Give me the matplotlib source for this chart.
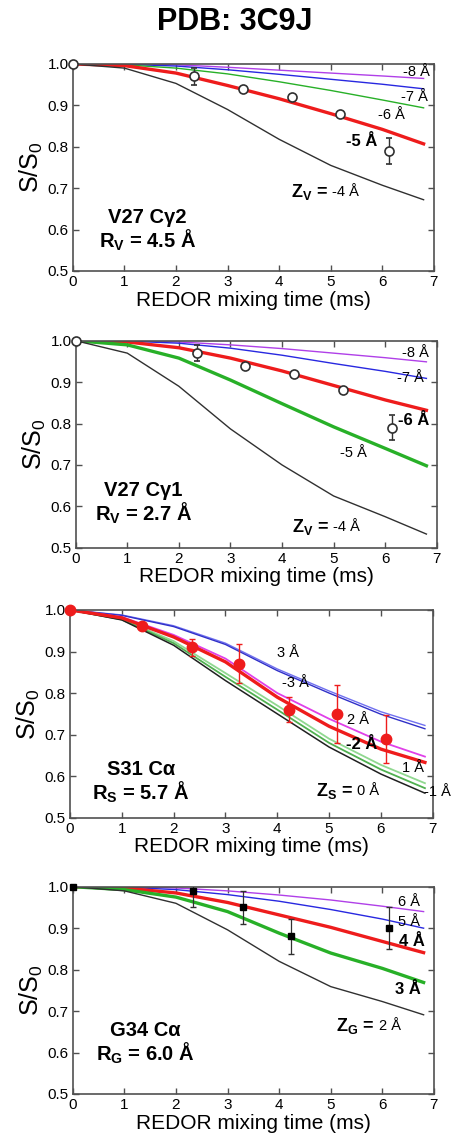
import numpy as np
import matplotlib
matplotlib.use("Agg")
import matplotlib.pyplot as plt

plt.rcParams['font.family'] = ['Liberation Sans', 'DejaVu Sans']
plt.rcParams['mathtext.fontset'] = 'custom'
plt.rcParams['mathtext.rm'] = 'Liberation Sans'
plt.rcParams['mathtext.bf'] = 'Liberation Sans:bold'
plt.rcParams['mathtext.it'] = 'Liberation Sans:italic'

# simulated REDOR curves, sampled at these mixing times (ms)
t_sim = [0, 1, 2, 3, 4, 5, 6, 6.8]
t_sim3 = [0, 1, 2, 3, 4, 5, 6, 6.85]

# panel 1: V27 Cg2, R = 4.5 A
p1_z4 = [1.0, 0.99, 0.953, 0.89, 0.818, 0.755, 0.707, 0.672]
p1_z5 = [1.0, 0.996, 0.978, 0.948, 0.916, 0.88, 0.842, 0.807]
p1_z6 = [1.0, 0.998, 0.99, 0.976, 0.957, 0.936, 0.913, 0.894]
p1_z7 = [1.0, 0.999, 0.995, 0.986, 0.975, 0.963, 0.951, 0.94]
p1_z8 = [1.0, 1.0, 0.998, 0.992, 0.985, 0.978, 0.971, 0.965]

# panel 2: V27 Cg1, R = 2.7 A
p2_z4 = [1.0, 0.97, 0.89, 0.787, 0.70, 0.625, 0.575, 0.533]
p2_z5 = [1.0, 0.99, 0.958, 0.905, 0.848, 0.792, 0.74, 0.698]
p2_z6 = [1.0, 0.997, 0.983, 0.958, 0.927, 0.892, 0.857, 0.832]
p2_z7 = [1.0, 0.999, 0.994, 0.982, 0.965, 0.945, 0.926, 0.909]
p2_z8 = [1.0, 1.0, 0.997, 0.99, 0.981, 0.97, 0.959, 0.949]

# V27 experimental data
t_v27 = [0, 2.35, 3.29, 4.24, 5.18, 6.13]
s_v27 = [1.0, 0.97, 0.94, 0.92, 0.88, 0.79]
e_v27 = [0.0, 0.02, 0.005, 0.005, 0.005, 0.031]

# panel 3: S31 Ca, R = 5.7 A
p3_zp3 = [1.0, 0.988, 0.962, 0.92, 0.858, 0.805, 0.755, 0.722]
p3_zm3 = [1.0, 0.987, 0.96, 0.917, 0.854, 0.80, 0.749, 0.714]
p3_zp2 = [1.0, 0.983, 0.94, 0.883, 0.80, 0.738, 0.683, 0.647]
p3_zm2 = [1.0, 0.981, 0.935, 0.875, 0.79, 0.72, 0.665, 0.633]
p3_zp1 = [1.0, 0.978, 0.925, 0.848, 0.77, 0.69, 0.627, 0.583]
p3_zm1 = [1.0, 0.977, 0.92, 0.839, 0.76, 0.68, 0.616, 0.571]
p3_z0 = [1.0, 0.976, 0.915, 0.83, 0.75, 0.67, 0.605, 0.559]

t_s31 = [0, 1.38, 2.35, 3.27, 4.22, 5.16, 6.1]
s_s31 = [1.0, 0.961, 0.91, 0.87, 0.76, 0.75, 0.69]
e_s31 = [0.0, 0.0, 0.021, 0.047, 0.03, 0.07, 0.058]

# panel 4: G34 Ca, R = 6.0 A
p4_z2 = [1.0, 0.99, 0.96, 0.896, 0.82, 0.759, 0.723, 0.691]
p4_z3 = [1.0, 0.993, 0.975, 0.94, 0.888, 0.84, 0.803, 0.769]
p4_z4 = [1.0, 0.997, 0.985, 0.962, 0.932, 0.902, 0.868, 0.841]
p4_z5 = [1.0, 0.999, 0.993, 0.981, 0.965, 0.945, 0.922, 0.90]
p4_z6 = [1.0, 1.0, 0.997, 0.99, 0.98, 0.968, 0.953, 0.94]

t_g34 = [0, 2.33, 3.29, 4.23, 6.12]
s_g34 = [1.0, 0.99, 0.95, 0.88, 0.90]
e_g34 = [0.0, 0.04, 0.04, 0.042, 0.05]

PURPLE = '#b040e8'
BLUE = '#2828e0'
GREEN = '#28b028'
RED = '#ee1c1c'
BLACK = '#303030'
MAGENTA = '#e040e8'
SPINE = '#505050'

fig = plt.figure(figsize=(4.52, 11.38), dpi=100)
fig.text(0.52, 0.981, 'PDB: 3C9J', ha='center', va='center',
         fontsize=22, fontweight='bold')

boxes = [
    [0.161, 0.7619, 0.799, 0.1819],
    [0.1675, 0.5187, 0.7987, 0.1819],
    [0.1549, 0.2815, 0.8024, 0.1825],
    [0.161, 0.0387, 0.799, 0.1821],
]
axes = [fig.add_axes(b) for b in boxes]


def setup(ax):
    ax.set_xlim(0, 7)
    ax.set_ylim(0.5, 1.0)
    ax.set_xticks(range(8))
    ax.set_yticks([0.5, 0.6, 0.7, 0.8, 0.9, 1.0])
    ax.set_yticklabels(['0.5', '0.6', '0.7', '0.8', '0.9', '1.0'])
    ax.tick_params(direction='in', top=True, right=True, length=4,
                   width=1, color=SPINE, labelsize=11, pad=3)
    for s in ax.spines.values():
        s.set_color(SPINE)
        s.set_linewidth(1.2)
    ax.set_xlabel('REDOR mixing time (ms)', fontsize=15, labelpad=1)
    ax.set_ylabel(r'S/S$_\mathrm{0}$', fontsize=18, labelpad=2)


def points(ax, t, s, e, **kw):
    # markers may sit on the frame (t=0, S/S0=1), so don't clip them
    cont = ax.errorbar(t, s, yerr=e, zorder=5, capsize=2.5, **kw)
    cont[0].set_clip_on(False)


def zlabel(ax, x, y, sub, val):
    ax.text(x, y, r'Z$_\mathbf{%s}$ =' % sub, ha='right', va='center',
            fontsize=13, fontweight='bold')
    ax.text(x + 0.08, y, val, ha='left', va='center', fontsize=10.5)


def name(ax, x, y, line1, line2):
    ax.text(x, y, line1 + '\n' + line2, ha='center', va='center',
            fontsize=14.5, fontweight='bold', linespacing=1.05)


thin = 1.0
thick = 2.4

# ---- panel 1
ax = axes[0]
setup(ax)
ax.plot(t_sim, p1_z8, color=PURPLE, lw=thin)
ax.plot(t_sim, p1_z7, color=BLUE, lw=thin)
ax.plot(t_sim, p1_z6, color=GREEN, lw=thin)
ax.plot(t_sim, p1_z5, color=RED, lw=thick)
ax.plot(t_sim, p1_z4, color=BLACK, lw=thin)
points(ax, t_v27, s_v27, e_v27, fmt='o', ms=6.5, mfc='white', mec=BLACK,
       mew=1.2, ecolor=BLACK, elinewidth=1)
ax.text(6.67, 0.981, '-8 Å', ha='center', va='center', fontsize=10.5)
ax.text(6.63, 0.921, '-7 Å', ha='center', va='center', fontsize=10.5)
ax.text(6.18, 0.877, '-6 Å', ha='center', va='center', fontsize=10.5)
ax.text(5.6, 0.812, '-5 Å', ha='center', va='center', fontsize=12,
        fontweight='bold')
zlabel(ax, 4.95, 0.69, 'V', '-4 Å')
name(ax, 1.45, 0.597, 'V27 Cγ2', r'R$_\mathbf{V}$ = 4.5 Å')

# ---- panel 2
ax = axes[1]
setup(ax)
ax.plot(t_sim, p2_z8, color=PURPLE, lw=thin)
ax.plot(t_sim, p2_z7, color=BLUE, lw=thin)
ax.plot(t_sim, p2_z6, color=RED, lw=thick)
ax.plot(t_sim, p2_z5, color=GREEN, lw=thick)
ax.plot(t_sim, p2_z4, color=BLACK, lw=thin)
points(ax, t_v27, s_v27, e_v27, fmt='o', ms=6.5, mfc='white', mec=BLACK,
       mew=1.2, ecolor=BLACK, elinewidth=1)
ax.text(6.58, 0.97, '-8 Å', ha='center', va='center', fontsize=10.5)
ax.text(6.5, 0.909, '-7 Å', ha='center', va='center', fontsize=10.5)
ax.text(6.55, 0.808, '-6 Å', ha='center', va='center', fontsize=12,
        fontweight='bold')
ax.text(5.38, 0.728, '-5 Å', ha='center', va='center', fontsize=10.5)
zlabel(ax, 4.9, 0.551, 'V', '-4 Å')
name(ax, 1.31, 0.607, 'V27 Cγ1', r'R$_\mathbf{V}$ = 2.7 Å')

# ---- panel 3
ax = axes[2]
setup(ax)
ax.plot(t_sim3, p3_zp3, color='#7070f0', lw=thin)
ax.plot(t_sim3, p3_zm3, color='#3030c8', lw=thin)
ax.plot(t_sim3, p3_zp2, color=MAGENTA, lw=1.3)
ax.plot(t_sim3, p3_zp1, color='#90d890', lw=1.3)
ax.plot(t_sim3, p3_zm1, color='#50b050', lw=1.3)
ax.plot(t_sim3, p3_z0, color='#202020', lw=1.1)
ax.plot(t_sim3, p3_zm2, color=RED, lw=thick)
points(ax, t_s31, s_s31, e_s31, fmt='o', ms=7.5, mfc=RED, mec=RED,
       ecolor=RED, elinewidth=1)
ax.text(4.2, 0.896, '3 Å', ha='center', va='center', fontsize=10.5)
ax.text(4.35, 0.824, '-3 Å', ha='center', va='center', fontsize=10.5)
ax.text(5.56, 0.735, '2 Å', ha='center', va='center', fontsize=10.5)
ax.text(5.62, 0.677, '-2 Å', ha='center', va='center', fontsize=12,
        fontweight='bold')
ax.text(6.62, 0.62, '1 Å', ha='center', va='center', fontsize=10.5)
ax.text(7.1, 0.562, '-1 Å', ha='center', va='center', fontsize=10.5,
        clip_on=False)
zlabel(ax, 5.45, 0.565, 'S', '0 Å')
name(ax, 1.37, 0.585, 'S31 Cα', r'R$_\mathbf{S}$ = 5.7 Å')

# ---- panel 4
ax = axes[3]
setup(ax)
ax.plot(t_sim, p4_z6, color=PURPLE, lw=thin)
ax.plot(t_sim, p4_z5, color=BLUE, lw=thin)
ax.plot(t_sim, p4_z4, color=RED, lw=thick)
ax.plot(t_sim, p4_z3, color=GREEN, lw=thick)
ax.plot(t_sim, p4_z2, color=BLACK, lw=thin)
points(ax, t_g34, s_g34, e_g34, fmt='s', ms=5, mfc='black', mec='black',
       ecolor=BLACK, elinewidth=0.9)
ax.text(6.52, 0.964, '6 Å', ha='center', va='center', fontsize=10.5)
ax.text(6.52, 0.916, '5 Å', ha='center', va='center', fontsize=10.5)
ax.text(6.57, 0.867, '4 Å', ha='center', va='center', fontsize=12,
        fontweight='bold')
ax.text(6.5, 0.753, '3 Å', ha='center', va='center', fontsize=12,
        fontweight='bold')
zlabel(ax, 5.85, 0.665, 'G', '2 Å')
name(ax, 1.4, 0.622, 'G34 Cα', r'R$_\mathbf{G}$ = 6.0 Å')

fig.savefig('out.png', dpi=100)
